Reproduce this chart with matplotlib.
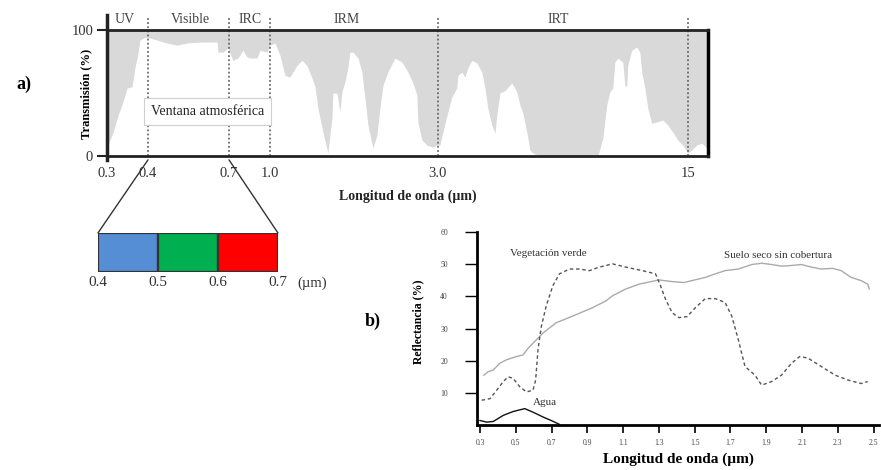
import matplotlib
matplotlib.use("Agg")
import matplotlib.pyplot as plt
import numpy as np
from matplotlib.patches import ConnectionPatch

plt.rcParams['font.family'] = ['Liberation Serif', 'DejaVu Serif']

# --- panel a) atmospheric transmission (wavelength in um, transmission in %)
wl_breaks = [0.3, 0.4, 0.7, 1.0, 3.0, 15.0, 16.0]
pos_breaks = [0.0, 41, 122, 163, 331, 581, 602]   # axis is stretched piecewise

trans_wl = [0.300, 0.302, 0.315, 0.327, 0.339, 0.349, 0.361, 0.368, 0.376, 0.380,
            0.393, 0.407, 0.470, 0.507, 0.544, 0.593, 0.656, 0.659, 0.678, 0.696,
            0.729, 0.766, 0.802, 0.832, 0.854, 0.905, 0.927, 0.978, 1.000, 1.060,
            1.119, 1.179, 1.238, 1.321, 1.381, 1.440, 1.500, 1.536, 1.571, 1.631,
            1.690, 1.714, 1.738, 1.750, 1.798, 1.833, 1.857, 1.893, 1.929, 1.952,
            1.988, 2.048, 2.095, 2.131, 2.167, 2.226, 2.274, 2.310, 2.345, 2.405,
            2.488, 2.571, 2.643, 2.702, 2.750, 2.762, 2.810, 2.869, 2.940, 2.988,
            3.096, 3.24, 3.48, 3.67, 3.91, 3.96, 4.15, 4.30, 4.44, 4.63,
            4.87, 5.11, 5.26, 5.40, 5.59, 5.74, 5.83, 5.98, 6.22, 6.55,
            6.79, 6.94, 7.08, 7.27, 7.42, 7.56, 7.90, 10.68, 10.92, 11.11,
            11.26, 11.40, 11.50, 11.64, 11.88, 11.98, 12.07, 12.12, 12.31, 12.55,
            12.70, 12.79, 12.94, 13.08, 13.27, 13.51, 13.80, 14.04, 14.28, 14.52,
            14.76, 15.00, 15.19, 15.43, 15.67, 15.91, 16.0]
trans_pct = [3, 8.7, 19, 32.5, 43, 54, 55, 70, 82.5, 92,
             94.4, 93.7, 89.7, 88, 89.7, 90.5, 90.5, 82.5, 82.5, 85.7,
             76, 77.8, 84, 78.6, 77.8, 77.8, 84, 82.5, 88, 89.7,
             80, 64, 62.7, 72, 76, 72, 62, 55, 38, 19,
             2.4, 16.7, 30, 50, 50, 35, 51, 58.7, 70.6, 82.5,
             82.5, 77.8, 66.7, 46, 24.6, 6.3, 16.7, 38, 56, 66.7,
             77.8, 74.6, 66.7, 58, 48.4, 27, 12.7, 8.7, 7.1, 8.7,
             8.7, 19, 35, 47, 54, 64, 66.7, 62.7, 70, 76,
             74, 66.7, 54, 38, 24.6, 18, 32.5, 50, 52, 58,
             51, 40.5, 34, 19, 4.8, 2.4, 0, 0, 14, 40.5,
             51, 54, 74.6, 77.8, 74.6, 56, 55, 72, 84, 86.5,
             82.5, 66.7, 54, 38, 26, 27, 28.6, 24.6, 19, 12.7,
             8.7, 2.4, 4.8, 8.7, 10.3, 6.3, 6]

a_ticks = [0.3, 0.4, 0.7, 1.0, 3.0, 15]
a_ticklabels = ['0.3', '0.4', '0.7', '1.0', '3.0', '15']
divisions = [0.4, 0.7, 1.0, 3.0, 15]
regions = ['UV', 'Visible', 'IRC', 'IRM', 'IRT']
region_x = [0.344, 0.556, 0.854, 1.917, 8.76]

# --- visible bands
band_edges = [0.4, 0.5, 0.6]
band_colors = ['#558ed5', '#00b050', '#ff0000']
band_ticks = [0.4, 0.5, 0.6, 0.7]

# --- panel b) spectral reflectance curves
soil_wl = [0.322, 0.346, 0.374, 0.411, 0.448, 0.504, 0.541, 0.569, 0.615, 0.652,
           0.726, 0.819, 0.930, 1.004, 1.041, 1.115, 1.189, 1.300, 1.374, 1.439,
           1.485, 1.559, 1.615, 1.670, 1.744, 1.819, 1.874, 1.930, 1.985, 2.041,
           2.096, 2.152, 2.207, 2.272, 2.319, 2.374, 2.430, 2.467, 2.476]
soil_r = [15.5, 16.6, 17.1, 19.2, 20.3, 21.3, 21.8, 23.9, 26.5, 28.6,
          31.8, 33.9, 36.5, 38.6, 40.2, 42.3, 43.8, 45.1, 44.6, 44.3,
          44.9, 45.9, 47.0, 48.0, 48.5, 49.9, 50.3, 49.9, 49.4, 49.6,
          49.9, 49.1, 48.5, 48.7, 48.0, 45.9, 44.9, 43.8, 42.3]

veg_wl = [0.309, 0.356, 0.393, 0.430, 0.457, 0.485, 0.522, 0.559, 0.596, 0.611,
          0.624, 0.643, 0.670, 0.707, 0.744, 0.800, 0.856, 0.911, 0.967, 1.041,
          1.115, 1.207, 1.281, 1.309, 1.337, 1.374, 1.411, 1.457, 1.504, 1.559,
          1.615, 1.670, 1.707, 1.744, 1.781, 1.837, 1.874, 1.930, 1.985, 2.041,
          2.087, 2.133, 2.207, 2.285, 2.356, 2.430, 2.467]
veg_r = [7.7, 8.2, 10.8, 13.5, 15.0, 14.5, 11.9, 10.3, 10.8, 14.0,
         23.4, 30.7, 37.0, 43.3, 47.0, 48.5, 48.5, 48.0, 49.1, 50.1,
         49.1, 48.0, 47.0, 43.3, 39.1, 34.9, 33.4, 33.7, 36.5, 39.3,
         39.3, 38.1, 33.9, 26.5, 18.2, 15.5, 12.4, 13.5, 15.5, 19.2,
         21.3, 20.8, 18.2, 15.5, 14.0, 12.9, 13.5]

water_wl = [0.300, 0.337, 0.374, 0.430, 0.485, 0.550, 0.596, 0.652, 0.698, 0.744]
water_r = [1.4, 0.9, 1.1, 3.0, 4.2, 5.1, 4.0, 2.5, 1.4, 0.2]

b_xticks = [0.3, 0.5, 0.7, 0.9, 1.1, 1.3, 1.5, 1.7, 1.9, 2.1, 2.3, 2.5]
b_yticks = [10, 20, 30, 40, 50, 60]


def fwd(x):
    return np.interp(x, wl_breaks, pos_breaks)


def inv(p):
    return np.interp(p, pos_breaks, wl_breaks)


fig = plt.figure(figsize=(8.81, 4.70), dpi=100)
dark = '#222222'

# ---------------- panel a
ax1 = fig.add_axes([0.1215, 0.668, 0.682, 0.268])
ax1.set_xscale('function', functions=(fwd, inv))
ax1.set_xlim(0.3, 15.96)
ax1.set_ylim(0, 100)
ax1.fill_between(trans_wl, trans_pct, 100, color='#d9d9d9', lw=0)
for s in ['top', 'bottom']:
    ax1.spines[s].set_linewidth(2)
    ax1.spines[s].set_color(dark)
ax1.spines['right'].set_linewidth(2.5)
ax1.spines['right'].set_color('black')
ax1.spines['left'].set_visible(False)
ax1.plot([0, 0], [-0.03, 1.12], transform=ax1.transAxes, clip_on=False,
         lw=2.5, color=dark)
ax1.vlines(divisions, 0, 1.1, transform=ax1.get_xaxis_transform(),
           colors='#555555', linestyles=(0, (1.2, 1.5)), lw=1.1, clip_on=False)
ax1.set_xticks(a_ticks)
ax1.set_xticklabels(a_ticklabels)
ax1.xaxis.set_minor_locator(matplotlib.ticker.NullLocator())
ax1.set_yticks([0, 100])
ax1.tick_params(axis='x', length=0, pad=8, labelsize=10.5, labelcolor='#333333')
ax1.tick_params(axis='y', length=7, width=1.5, color=dark, pad=3,
                labelsize=10.5, labelcolor='#333333')
ax1.set_xlabel('Longitud de onda (µm)', fontsize=10, fontweight='bold',
               labelpad=7, color='#222222')
ax1.set_ylabel('Transmisión (%)', fontsize=9, fontweight='bold')
ax1.yaxis.set_label_coords(-0.025, 0.49)
for name, xr in zip(regions, region_x):
    ax1.text(xr, 1.085, name, transform=ax1.get_xaxis_transform(),
             ha='center', va='center', fontsize=10, color='#444444')
ax1.text(0.622, 35.7, 'Ventana atmosférica', ha='center', va='center',
         fontsize=10, color='#222222',
         bbox=dict(boxstyle='square,pad=0.5', fc='white', ec='#d0d0d0', lw=0.8))
fig.text(24 / 881, 1 - 84 / 470, 'a)', fontsize=13, fontweight='bold',
         ha='center', va='center')

# ---------------- visible bands
axc = fig.add_axes([0.1112, 0.4213, 0.2043, 0.083])
axc.bar(band_edges, 1, width=0.1, align='edge', color=band_colors,
        edgecolor='#333333', linewidth=1.6)
axc.set_xlim(0.4, 0.7)
axc.set_ylim(0, 1)
for s in axc.spines.values():
    s.set_visible(False)
axc.set_yticks([])
axc.set_xticks(band_ticks)
axc.set_xticklabels([f'{t:.1f}' for t in band_ticks])
axc.tick_params(axis='x', length=0, pad=3, labelsize=11, labelcolor='#333333')
axc.text(0.733, -0.3, '(µm)', fontsize=10.5, color='#333333',
         ha='left', va='center', transform=axc.get_xaxis_transform())

for xv in [0.4, 0.7]:
    con = ConnectionPatch(xyA=(xv, -3), coordsA=ax1.transData,
                          xyB=(xv, 1), coordsB=axc.get_xaxis_transform(),
                          color='#333333', lw=1)
    fig.add_artist(con)

# ---------------- panel b
ax2 = fig.add_axes([0.5414, 0.0957, 0.4563, 0.4106])
ax2.plot(soil_wl, soil_r, color='#aaaaaa', lw=1)
ax2.plot(veg_wl, veg_r, color='#555555', lw=1, linestyle=(0, (2.5, 2)))
ax2.plot(water_wl, water_r, color='#111111', lw=1)
ax2.set_xlim(0.283, 2.53)
ax2.set_ylim(0, 60)
ax2.spines['top'].set_visible(False)
ax2.spines['right'].set_visible(False)
for s in ['left', 'bottom']:
    ax2.spines[s].set_linewidth(2)
    ax2.spines[s].set_color('black')
ax2.set_xticks(b_xticks)
ax2.set_xticklabels([f'{t:.1f}' for t in b_xticks])
ax2.set_yticks(b_yticks)
ax2.tick_params(axis='x', length=6, width=1.2, pad=4, labelsize=5.5,
                labelcolor='#444444')
ax2.tick_params(axis='y', length=9, width=1, pad=12, labelsize=5.5,
                labelcolor='#444444')
ax2.set_xlabel('Longitud de onda (µm)', fontsize=11, fontweight='bold',
               labelpad=4)
ax2.set_ylabel('Reflectancia (%)', fontsize=8.5, fontweight='bold')
ax2.yaxis.set_label_coords(-0.13, 0.534)
ax2.text(0.467, 53.2, 'Vegetación verde', fontsize=8, color='#333333',
         ha='left', va='center')
ax2.text(1.661, 52.7, 'Suelo seco sin cobertura', fontsize=8, color='#333333',
         ha='left', va='center')
ax2.text(0.596, 6.9, 'Agua', fontsize=8, color='#333333', ha='left', va='center')
fig.text(373 / 881, 1 - 321 / 470, 'b)', fontsize=13, fontweight='bold',
         ha='center', va='center')

fig.savefig('out.png', dpi=100)
